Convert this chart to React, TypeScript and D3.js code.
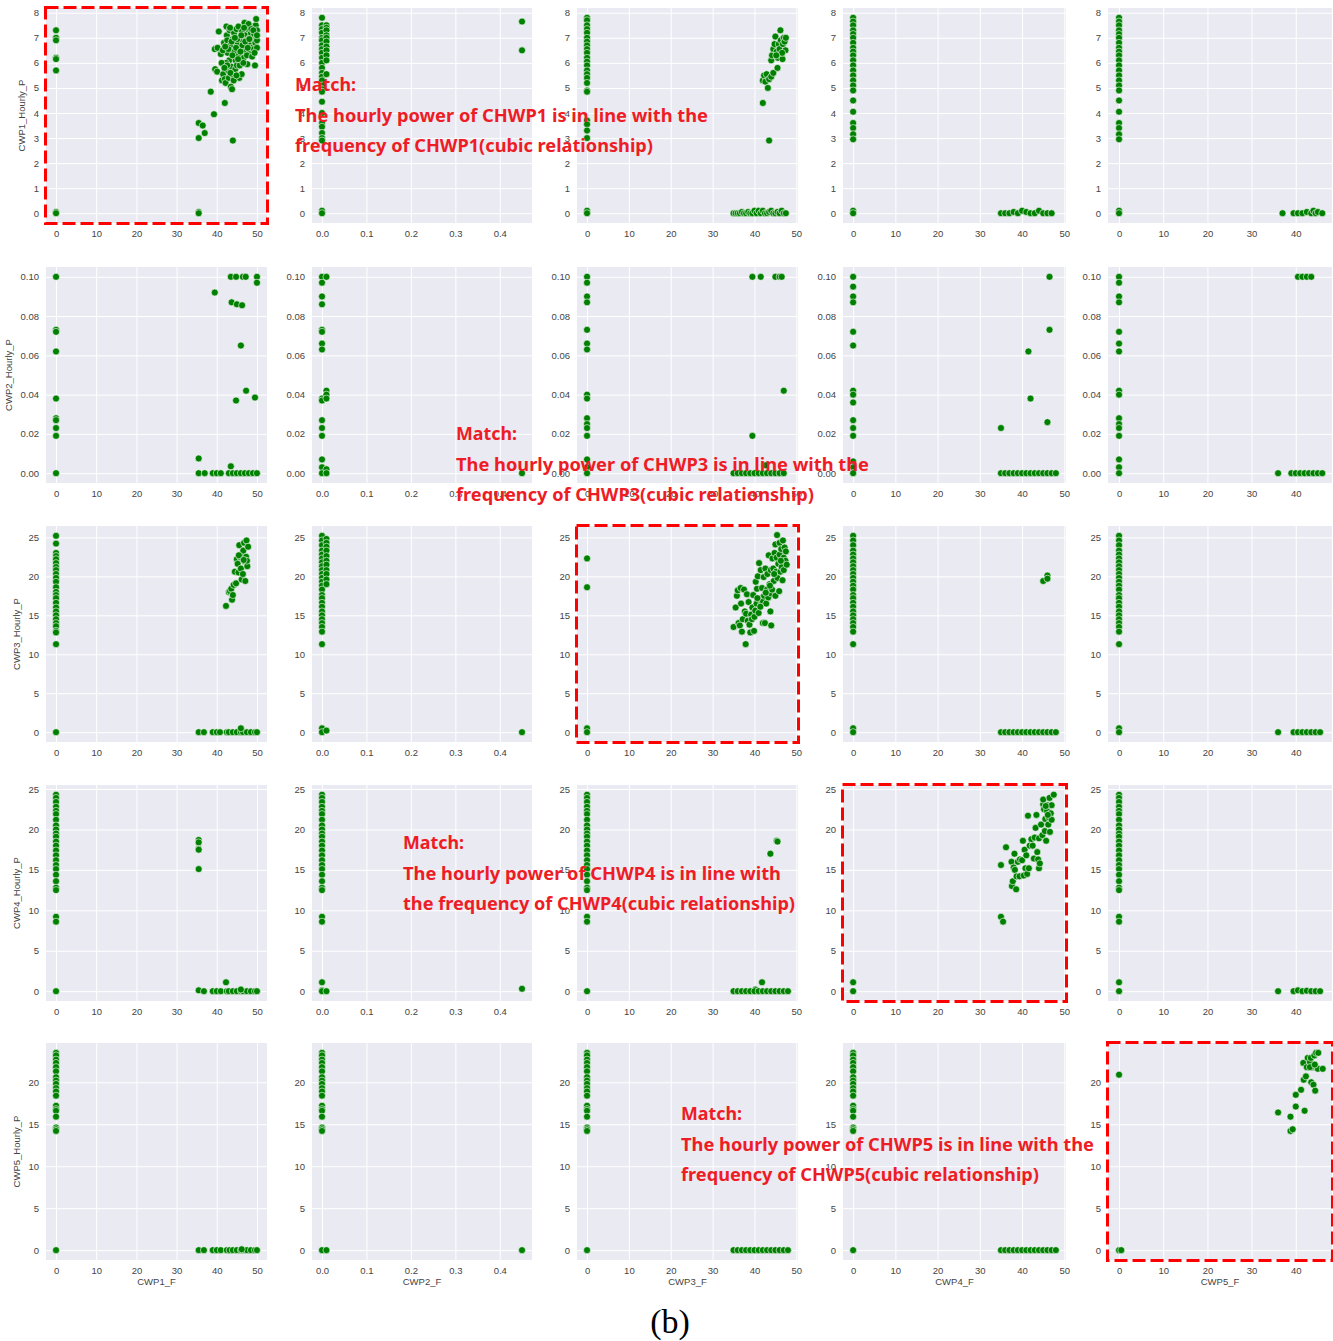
import React, { useEffect, useRef } from "react";
import * as d3 from "d3";

type Pt = [number, number];

// axis names
const xNames = ["CWP1_F", "CWP2_F", "CWP3_F", "CWP4_F", "CWP5_F"];
const yNames = ["CWP1_Hourly_P", "CWP2_Hourly_P", "CWP3_Hourly_P", "CWP4_Hourly_P", "CWP5_Hourly_P"];

// axis ranges (data + seaborn 5% margin) and ticks
const xDomains: [number, number][] = [[-2.5, 52.5], [-0.0225, 0.4725], [-2.4, 50.4], [-2.4, 50.4], [-2.5, 48.2]];
const yDomains: [number, number][] = [[-0.39, 8.19], [-0.005, 0.105], [-1.26, 26.46], [-1.215, 25.5], [-1.175, 24.675]];
const xTicks = [[0, 10, 20, 30, 40, 50], [0, 0.1, 0.2, 0.3, 0.4], [0, 10, 20, 30, 40, 50], [0, 10, 20, 30, 40, 50], [0, 10, 20, 30, 40]];
const yTicks = [[0, 1, 2, 3, 4, 5, 6, 7, 8], [0, 0.02, 0.04, 0.06, 0.08, 0.1], [0, 5, 10, 15, 20, 25], [0, 5, 10, 15, 20, 25], [0, 5, 10, 15, 20]];
const xFormats = ["d", ".1f", "d", "d", "d"];
const yFormats = ["d", ".2f", "d", "d", "d"];

// ---- row 1 : CWP1_Hourly_P ----
const r1c1: Pt[] = [
  [0, 7.3], [0, 7.0], [0, 6.9], [0, 6.2], [0, 6.15], [0, 5.7], [0, 0.05], [0, 0],
  [35.5, 3.6], [35.5, 3.0], [35.5, 0.05], [35.5, 0], [36.5, 3.5], [37, 3.2], [44, 2.9], [39.3, 3.95], [38.5, 4.85], [42, 4.4],
  [40.5, 7.25], [39.5, 6.55], [40.2, 6.6], [39.6, 5.75], [40.1, 5.65], [41, 6.35], [41.3, 5.3], [41.6, 5.55], [41.8, 6.8],
  [42, 5.35], [42.2, 5.2], [42.4, 7.45], [42.5, 7.1], [42.6, 6.9], [42.7, 6.4], [42.8, 5.7], [43, 5.4], [43.1, 6.1],
  [43.2, 7.3], [43.4, 6.7], [43.5, 5.05], [43.6, 5.85], [43.8, 4.95], [44, 6.95], [44.1, 5.5], [44.3, 7.2], [44.4, 6.45],
  [44.6, 5.75], [44.7, 6.1], [44.9, 7.35], [45, 5.9], [45.2, 6.75], [45.4, 7.45], [45.5, 6.3], [45.6, 5.4], [45.8, 7.0],
  [46, 6.55], [46.2, 5.55], [46.3, 7.25], [46.5, 6.85], [46.7, 6.2], [46.9, 7.6], [47, 6.5], [47.2, 7.1], [47.4, 6.9],
  [47.6, 5.95], [47.8, 7.35], [48, 6.75], [48.2, 7.0], [48.3, 6.45], [48.5, 7.2], [48.7, 6.6], [48.9, 7.45], [49, 6.95],
  [49.2, 6.55], [49.3, 7.15], [49.5, 5.9], [49.6, 6.8], [49.7, 7.5], [49.8, 7.75], [49.9, 7.0], [50, 6.9], [50, 7.3],
  [50, 6.6], [42.3, 6.0], [43.9, 6.3], [45.1, 6.95], [46.1, 7.1], [47.5, 6.3], [48.8, 6.25], [44.2, 5.3], [45.7, 5.9],
  [41.5, 6.5], [43.3, 7.4], [47.9, 7.55], [46.6, 6.0], [42.9, 6.55], [44.8, 6.6], [49.4, 6.4],
  [41.2, 6.0], [42.1, 6.65], [43.7, 6.85], [44.5, 7.0], [45.3, 6.15], [46.4, 6.7], [47.1, 6.85], [48.1, 6.95], [48.6, 7.35],
  [49.1, 7.3], [43.4, 5.6], [44.9, 5.5], [46.8, 7.4], [47.7, 6.6], [50, 7.1], [45.9, 6.45], [42.6, 5.9], [41.9, 5.8],
];
const r1c2: Pt[] = [
  [0, 7.8], [0, 7.5], [0, 7.35], [0, 7.2], [0, 7.0], [0, 6.9], [0, 6.7], [0, 6.55], [0, 6.4], [0, 6.2], [0, 6.0], [0, 5.8],
  [0, 5.6], [0, 5.45], [0, 5.3], [0, 5.1], [0, 4.95], [0, 4.85], [0, 4.45], [0, 4.0], [0, 3.6], [0, 3.45], [0, 3.2], [0, 3.0],
  [0, 2.9], [0, 0.1], [0, 0],
  [0.01, 7.5], [0.01, 7.4], [0.01, 7.3], [0.01, 7.1], [0.01, 7.0], [0.01, 6.85], [0.01, 6.65], [0.01, 6.5], [0.01, 6.3],
  [0.01, 6.1], [0.01, 5.55], [0.45, 7.65], [0.45, 6.5],
];
const r1c3: Pt[] = [
  [0, 7.8], [0, 7.7], [0, 7.5], [0, 7.35], [0, 7.2], [0, 7.0], [0, 6.85], [0, 6.7], [0, 6.55], [0, 6.4], [0, 6.2], [0, 6.05],
  [0, 5.9], [0, 5.7], [0, 5.55], [0, 5.4], [0, 5.2], [0, 4.9], [0, 4.85], [0, 3.7], [0, 3.55], [0, 3.3], [0, 3.0], [0, 0.1], [0, 0],
  [42, 4.4], [43.5, 2.9], [42, 5.3], [42.3, 5.5], [42.6, 5.25], [42.9, 5.55], [43.2, 5.0], [43.5, 5.35], [44, 5.45], [44.5, 5.6],
  [45.5, 5.8], [44, 6.1], [44.2, 6.3], [44.5, 6.55], [44.8, 6.75], [45, 7.05], [45.3, 6.45], [45.6, 6.2], [45.8, 6.75],
  [46, 6.55], [46.2, 7.3], [46.3, 6.9], [46.5, 6.3], [46.7, 6.15], [46.8, 6.75], [47, 7.0], [47.2, 6.85], [47.4, 6.5],
  [47.5, 7.0], [46.6, 6.4], [45.2, 6.3],
  [35, 0], [35.5, 0], [36, 0], [36.5, 0], [37, 0.05], [37.5, 0], [38, 0], [38.5, 0.05], [39, 0], [39.5, 0], [40, 0.1],
  [40.5, 0], [41, 0.1], [41.5, 0], [42, 0.1], [42.5, 0], [43, 0], [43.5, 0.05], [44, 0.1], [44.5, 0], [45, 0], [45.5, 0.05],
  [46, 0], [46.5, 0.1], [47, 0], [47.5, 0],
];
const r1c4: Pt[] = [
  [0, 7.8], [0, 7.65], [0, 7.5], [0, 7.3], [0, 7.15], [0, 7.0], [0, 6.8], [0, 6.6], [0, 6.45], [0, 6.3], [0, 6.1], [0, 5.9],
  [0, 5.7], [0, 5.5], [0, 5.3], [0, 5.1], [0, 4.9], [0, 4.5], [0, 4.05], [0, 3.6], [0, 3.4], [0, 3.15], [0, 2.95], [0, 0.1], [0, 0],
  [35, 0], [36, 0], [37, 0], [38, 0.05], [39, 0], [40, 0.1], [41, 0.05], [42, 0], [43, 0], [44, 0.1], [45, 0], [46, 0], [47, 0],
];
const r1c5: Pt[] = [
  [0, 7.8], [0, 7.65], [0, 7.5], [0, 7.3], [0, 7.15], [0, 7.0], [0, 6.8], [0, 6.6], [0, 6.45], [0, 6.3], [0, 6.1], [0, 5.9],
  [0, 5.7], [0, 5.5], [0, 5.3], [0, 5.1], [0, 4.9], [0, 4.5], [0, 4.05], [0, 3.6], [0, 3.4], [0, 3.15], [0, 2.95], [0, 0.1], [0, 0],
  [37, 0], [39.5, 0], [40.5, 0], [41.5, 0], [42.5, 0.05], [43.5, 0], [44, 0.1], [44.5, 0], [45, 0.05], [46, 0],
];

// ---- row 2 : CWP2_Hourly_P ----
const r2c1: Pt[] = [
  [0, 0.1], [0, 0.073], [0, 0.072], [0, 0.062], [0, 0.038], [0, 0.028], [0, 0.027], [0, 0.023], [0, 0.019], [0, 0],
  [39.5, 0.092], [43.5, 0.1], [44.8, 0.1], [46.5, 0.1], [47.2, 0.1], [50, 0.1], [50, 0.097], [43.7, 0.087], [45, 0.086],
  [46.3, 0.0855], [46, 0.065], [47.3, 0.042], [49.5, 0.0385], [44.8, 0.037], [35.5, 0.0075], [43.5, 0.0035],
  [35.5, 0], [37, 0], [39, 0], [40, 0], [41, 0], [43, 0], [44, 0], [45, 0], [46, 0], [47, 0], [48, 0], [49, 0], [50, 0],
];
const r2c2: Pt[] = [
  [0, 0.1], [0, 0.097], [0, 0.09], [0, 0.086], [0, 0.073], [0, 0.072], [0, 0.066], [0, 0.063], [0, 0.038], [0, 0.037],
  [0, 0.027], [0, 0.023], [0, 0.019], [0, 0.007], [0, 0.003], [0, 0],
  [0.01, 0.1], [0.01, 0.042], [0.01, 0.04], [0.01, 0.038], [0.01, 0.002], [0.01, 0], [0.45, 0],
];
const r2c3: Pt[] = [
  [0, 0.1], [0, 0.097], [0, 0.09], [0, 0.087], [0, 0.073], [0, 0.066], [0, 0.063], [0, 0.04], [0, 0.038], [0, 0.028],
  [0, 0.025], [0, 0.023], [0, 0.019], [0, 0.007], [0, 0.003], [0, 0],
  [39.5, 0.1], [41.5, 0.1], [45, 0.1], [46, 0.1], [46.5, 0.1], [47, 0.042], [39.5, 0.019], [42.6, 0.004],
  [35, 0], [36, 0], [37, 0], [38, 0], [39, 0], [40, 0], [41, 0], [42, 0], [43, 0], [44, 0], [45, 0], [46, 0], [47, 0],
];
const r2c4: Pt[] = [
  [0, 0.1], [0, 0.095], [0, 0.09], [0, 0.087], [0, 0.072], [0, 0.065], [0, 0.042], [0, 0.04], [0, 0.036], [0, 0.027],
  [0, 0.023], [0, 0.019], [0, 0.006], [0, 0.003], [0, 0],
  [46.5, 0.1], [46.5, 0.073], [41.5, 0.062], [42, 0.038], [35, 0.023], [46, 0.026],
  [35, 0], [36, 0], [37, 0], [38, 0], [39, 0], [40, 0], [41, 0], [42, 0], [43, 0], [44, 0], [45, 0], [46, 0], [47, 0], [48, 0],
];
const r2c5: Pt[] = [
  [0, 0.1], [0, 0.097], [0, 0.09], [0, 0.087], [0, 0.072], [0, 0.066], [0, 0.062], [0, 0.042], [0, 0.04], [0, 0.028],
  [0, 0.025], [0, 0.023], [0, 0.019], [0, 0.007], [0, 0.003], [0, 0],
  [40.5, 0.1], [41.5, 0.1], [42.5, 0.1], [43.5, 0.1],
  [36, 0], [39, 0], [40, 0], [41, 0], [42, 0], [43, 0], [44, 0], [45, 0], [46, 0],
];

// ---- row 3 : CWP3_Hourly_P ----
const r3c1: Pt[] = [
  [0, 25.2], [0, 24.2], [0, 23], [0, 22.6], [0, 22.2], [0, 21.7], [0, 21.2], [0, 20.8], [0, 20.3], [0, 19.8], [0, 19.3],
  [0, 18.6], [0, 18], [0, 17.6], [0, 17.2], [0, 16.6], [0, 16], [0, 15.5], [0, 15], [0, 14.5], [0, 14], [0, 13.6],
  [0, 13], [0, 12.8], [0, 11.3], [0, 0],
  [42.3, 16.2], [43, 18], [43.3, 18.1], [43.6, 18.4], [43.8, 17], [44, 17.6], [44.2, 18.9], [44.5, 20.6], [44.8, 19.1],
  [45, 22.2], [45.2, 21.6], [45.4, 20.5], [45.6, 24], [45.8, 22.5], [46, 21], [46.2, 19.6], [46.3, 22.8], [46.5, 20.3],
  [46.6, 23.3], [46.8, 24.3], [47, 21.9], [47.1, 19.4], [47.3, 22.5], [47.4, 24.6], [47.6, 21.3], [47.8, 23.8],
  [47.5, 22], [45.5, 22.7], [46.7, 22.1],
  [35.5, 0], [36.8, 0], [39, 0], [40, 0], [40.8, 0], [42.5, 0], [43, 0], [44, 0], [45, 0], [46, 0], [46.5, 0], [47.5, 0],
  [48.5, 0], [49.5, 0], [50, 0], [46, 0.5],
];
const r3c2: Pt[] = [
  [0, 25.2], [0, 24.6], [0, 24], [0, 23.3], [0, 22.8], [0, 22.3], [0, 21.8], [0, 21.3], [0, 20.8], [0, 20.3], [0, 19.8],
  [0, 19.3], [0, 18.8], [0, 18.3], [0, 17.6], [0, 17.2], [0, 16.6], [0, 16.1], [0, 15.5], [0, 15], [0, 14.5], [0, 14],
  [0, 13.5], [0, 12.9], [0, 11.3], [0, 0.5], [0, 0],
  [0.01, 24.8], [0.01, 24.3], [0.01, 23.8], [0.01, 23.3], [0.01, 22.6], [0.01, 22], [0.01, 21.5], [0.01, 20.8],
  [0.01, 20.3], [0.01, 19.6], [0.01, 19], [0.01, 0.2], [0.45, 0],
];
const r3c3: Pt[] = [
  [0, 22.3], [0, 18.6], [0, 0.5], [0, 0],
  [35, 13.5], [35.5, 16], [35.8, 17.5], [36, 18.2], [36.2, 14], [36.5, 13.7], [36.7, 18.5], [36.8, 16.5], [37, 12.9],
  [37.2, 14.5], [37.5, 18.3], [37.7, 15.5], [37.9, 11.3], [38, 15.2], [38.2, 17.7], [38.4, 14.3], [38.6, 16.7],
  [38.8, 13.8], [39, 12.8], [39.2, 15.1], [39.4, 14.5], [39.5, 16], [39.7, 17.6], [39.9, 13], [40, 14.8], [40.2, 15.6],
  [40.3, 19.3], [40.5, 16.5], [40.6, 18.4], [40.8, 20], [41, 15.3], [41.1, 21.7], [41.3, 17.2], [41.5, 20.8], [41.6, 16.4],
  [41.8, 18.5], [42, 14], [42, 16.8], [42.2, 19.9], [42.3, 17.5], [42.5, 14], [42.6, 21], [42.8, 16.5], [43, 18.3],
  [43.1, 20.3], [43.3, 17.3], [43.4, 22.7], [43.6, 19], [43.8, 15.5], [43.9, 20.8], [44, 13.7], [44, 17.8], [44.2, 18.3],
  [44.3, 22.3], [44.5, 21], [44.6, 19.4], [44.8, 23], [45, 17.5], [45, 24.1], [45.2, 20.6], [45.3, 22.4], [45.4, 25.3],
  [45.5, 19.8], [45.7, 21.6], [45.9, 18.1], [46, 24.3], [46, 22.8], [46.2, 20.6], [46.4, 23.5], [46.5, 21.2], [46.7, 19.5],
  [46.8, 24.6], [47, 22.4], [47, 20.8], [47.2, 23.7], [47.4, 22], [47.5, 23.2], [47.7, 21.5], [46.3, 22], [44.7, 20.3],
  [43.7, 18.8], [42.7, 17.9], [41.4, 16.1], [40.7, 17.2],
];
const r3c4: Pt[] = [
  [0, 25.2], [0, 24.6], [0, 24], [0, 23.3], [0, 22.8], [0, 22.3], [0, 21.8], [0, 21.3], [0, 20.8], [0, 20.3], [0, 19.8],
  [0, 19.3], [0, 18.8], [0, 18.3], [0, 17.6], [0, 17.2], [0, 16.6], [0, 16.1], [0, 15.5], [0, 15], [0, 14.5], [0, 14],
  [0, 13.5], [0, 12.9], [0, 11.3], [0, 0.5], [0, 0],
  [45, 19.4], [46, 20.1], [46, 19.7],
  [35, 0], [36, 0], [37, 0], [38, 0], [39, 0], [40, 0], [41, 0], [42, 0], [43, 0], [44, 0], [45, 0], [46, 0], [47, 0], [48, 0],
];
const r3c5: Pt[] = [
  [0, 25.2], [0, 24.6], [0, 24], [0, 23.3], [0, 22.8], [0, 22.3], [0, 21.8], [0, 21.3], [0, 20.8], [0, 20.3], [0, 19.8],
  [0, 19.3], [0, 18.8], [0, 18.3], [0, 17.6], [0, 17.2], [0, 16.6], [0, 16.1], [0, 15.5], [0, 15], [0, 14.5], [0, 14],
  [0, 13.5], [0, 12.9], [0, 11.3], [0, 0.5], [0, 0],
  [36, 0], [39.5, 0], [40.5, 0], [41.5, 0], [42.5, 0], [43.5, 0], [44.5, 0], [45.5, 0],
];

// ---- row 4 : CWP4_Hourly_P ----
const r4c1: Pt[] = [
  [0, 24.3], [0, 23.9], [0, 23.4], [0, 22.8], [0, 22.3], [0, 21.9], [0, 21.2], [0, 20.5], [0, 20], [0, 19.5], [0, 19.1],
  [0, 18.5], [0, 18], [0, 17.4], [0, 16.8], [0, 16.2], [0, 15.6], [0, 15.1], [0, 14.4], [0, 13.6], [0, 12.8], [0, 12.5],
  [0, 9.2], [0, 8.6], [0, 0],
  [35.5, 18.7], [35.5, 18.4], [35.5, 17.6], [35.5, 17.5], [35.5, 15.1], [35.5, 0.1], [42.3, 1.1],
  [36.8, 0], [39, 0], [40, 0], [41, 0], [42.5, 0], [43, 0], [44, 0], [45, 0], [46, 0], [46.5, 0], [47.5, 0], [48.5, 0],
  [49.5, 0], [50, 0], [46, 0.2],
];
const r4c2: Pt[] = [
  [0, 24.3], [0, 23.9], [0, 23.4], [0, 22.8], [0, 22.3], [0, 21.9], [0, 21.2], [0, 20.5], [0, 20], [0, 19.5], [0, 19.1],
  [0, 18.5], [0, 18], [0, 17.4], [0, 16.8], [0, 16.2], [0, 15.6], [0, 15.1], [0, 14.4], [0, 13.6], [0, 12.8], [0, 12.5],
  [0, 9.2], [0, 8.6], [0, 1.1], [0, 0.1], [0, 0], [0.01, 0], [0.45, 0.3],
];
const r4c3: Pt[] = [
  [0, 24.3], [0, 23.9], [0, 23.4], [0, 22.8], [0, 22.3], [0, 21.9], [0, 21.2], [0, 20.5], [0, 20], [0, 19.5], [0, 19.1],
  [0, 18.5], [0, 18], [0, 17.4], [0, 16.8], [0, 16.2], [0, 15.6], [0, 15.1], [0, 14.4], [0, 13.6], [0, 12.8], [0, 12.5],
  [0, 9.2], [0, 8.6], [0, 0],
  [43.8, 17], [45.3, 18.6], [45.5, 18.5], [41.8, 1.1], [40.2, 0.2],
  [35, 0], [36, 0], [37, 0], [38, 0], [39, 0], [40, 0], [41, 0], [42, 0], [43, 0], [44, 0], [45, 0], [46, 0], [47, 0], [48, 0],
];
const r4c4: Pt[] = [
  [0, 1.1], [0, 0],
  [35, 9.2], [35.5, 8.6], [35, 15.6], [36.2, 17.8], [37.5, 16], [37.6, 13], [37.8, 13.6], [38, 15.3], [38.2, 17],
  [38.3, 15], [38.6, 12.6], [38.7, 14.2], [39, 16], [39.4, 14.2], [39.5, 16.3], [40, 16.2], [40.2, 18.6], [40.4, 14.3],
  [40.6, 17.5], [40.8, 15.2], [41, 16.8], [41.2, 14.5], [41.4, 21.7], [41.6, 15.2], [41.8, 18], [42.2, 18.8], [42.5, 18],
  [42.8, 16.4], [43, 19], [43.2, 20.2], [43.4, 21.8], [43.6, 17.2], [43.8, 16.3], [44, 15.2], [44, 18.9], [44.2, 15.8],
  [44.5, 20.6], [44.8, 19.3], [45, 23.1], [45, 23.7], [45.2, 22.5], [45.4, 19.8], [45.5, 21.3], [45.7, 18.6], [45.9, 22.3],
  [46, 23], [46.2, 20.6], [46.3, 21.5], [46.5, 23.9], [46.6, 19.7], [46.8, 22], [47, 21.2], [47, 23], [47.5, 24.3],
  [45.6, 22.9], [46.1, 21.8],
];
const r4c5: Pt[] = [
  [0, 24.3], [0, 23.9], [0, 23.4], [0, 22.8], [0, 22.3], [0, 21.9], [0, 21.2], [0, 20.5], [0, 20], [0, 19.5], [0, 19.1],
  [0, 18.5], [0, 18], [0, 17.4], [0, 16.8], [0, 16.2], [0, 15.6], [0, 15.1], [0, 14.4], [0, 13.6], [0, 12.8], [0, 12.5],
  [0, 9.2], [0, 8.6], [0, 1.1], [0, 0],
  [36, 0], [39.5, 0], [40.5, 0.1], [41.5, 0], [42.5, 0.05], [43.5, 0], [44.5, 0], [45.5, 0],
];

// ---- row 5 : CWP5_Hourly_P ----
const r5c1: Pt[] = [
  [0, 23.5], [0, 23.2], [0, 22.7], [0, 22.3], [0, 21.8], [0, 21.3], [0, 20.6], [0, 20.2], [0, 19.8], [0, 19.3], [0, 18.9],
  [0, 18.4], [0, 17.2], [0, 16.8], [0, 16.6], [0, 15.9], [0, 14.6], [0, 14.4], [0, 14.2], [0, 0],
  [35.5, 0], [36.8, 0], [39, 0], [40, 0], [41, 0], [42.5, 0], [43.2, 0], [44, 0], [45, 0], [46, 0], [46.5, 0], [47.5, 0],
  [48.5, 0], [49.5, 0], [50, 0], [46.2, 0.1],
];
const r5c2: Pt[] = [
  [0, 23.5], [0, 23.2], [0, 22.7], [0, 22.3], [0, 21.8], [0, 21.3], [0, 20.6], [0, 20.2], [0, 19.8], [0, 19.3], [0, 18.9],
  [0, 18.4], [0, 17.2], [0, 16.8], [0, 16.6], [0, 15.9], [0, 14.6], [0, 14.4], [0, 14.2], [0, 0], [0.01, 0], [0.45, 0],
];
const r5c3: Pt[] = [
  [0, 23.5], [0, 23.2], [0, 22.7], [0, 22.3], [0, 21.8], [0, 21.3], [0, 20.6], [0, 20.2], [0, 19.8], [0, 19.3], [0, 18.9],
  [0, 18.4], [0, 17.2], [0, 16.8], [0, 16.6], [0, 15.9], [0, 14.6], [0, 14.4], [0, 14.2], [0, 0],
  [35, 0], [36, 0], [37, 0], [38, 0], [39, 0], [40, 0], [41, 0], [42, 0], [43, 0], [44, 0], [45, 0], [46, 0], [47, 0], [48, 0],
];
const r5c4: Pt[] = [
  [0, 23.5], [0, 23.2], [0, 22.7], [0, 22.3], [0, 21.8], [0, 21.3], [0, 20.6], [0, 20.2], [0, 19.8], [0, 19.3], [0, 18.9],
  [0, 18.4], [0, 17.2], [0, 16.8], [0, 16.6], [0, 15.9], [0, 14.6], [0, 14.4], [0, 14.2], [0, 0],
  [35, 0], [36, 0], [37, 0], [38, 0], [39, 0], [40, 0], [41, 0], [42, 0], [43, 0], [44, 0], [45, 0], [46, 0], [47, 0], [48, 0],
];
const r5c5: Pt[] = [
  [0, 20.9], [0, 0], [0.5, 0],
  [36, 16.4], [38.8, 15.9], [38.8, 14.2], [39.3, 14.4], [40, 17.1], [40, 18.5], [41.2, 19.1], [41.8, 20.3], [42, 16.6],
  [42.3, 20.7], [41.7, 22.3], [42.5, 21.8], [42.7, 22.9], [43.2, 22.4], [43.4, 22.9], [43.5, 20], [43.8, 21.8], [44, 19.7],
  [44.2, 23.2], [44.4, 19], [44.5, 21.8], [44.6, 23.5], [45.1, 23.5], [45, 21.6], [46.1, 21.6], [43.2, 21.8], [44.3, 22.1],
];

const panels: Pt[][][] = [
  [r1c1, r1c2, r1c3, r1c4, r1c5],
  [r2c1, r2c2, r2c3, r2c4, r2c5],
  [r3c1, r3c2, r3c3, r3c4, r3c5],
  [r4c1, r4c2, r4c3, r4c4, r4c5],
  [r5c1, r5c2, r5c3, r5c4, r5c5],
];

// highlighted (row, col) diagonal panels
const highlighted = [[0, 0], [2, 2], [3, 3], [4, 4]];

// annotation texts
const notes = [
  { x: 295, y: 91, lines: ["Match:", "The hourly power of CHWP1 is in line with the", "frequency of CHWP1(cubic relationship)"], widths: [61, 413, 358] },
  { x: 456, y: 440, lines: ["Match:", "The hourly power of CHWP3 is in line with the", "frequency of CHWP3(cubic relationship)"], widths: [61, 413, 358] },
  { x: 403, y: 849, lines: ["Match:", "The hourly power of CHWP4 is in line with", "the frequency of CHWP4(cubic relationship)"], widths: [61, 378, 392] },
  { x: 681, y: 1120, lines: ["Match:", "The hourly power of CHWP5 is in line with the", "frequency of CHWP5(cubic relationship)"], widths: [61, 413, 358] },
];

const colLeft = [46, 312, 577, 843, 1108];
const colWidth = [221, 220, 221, 223, 224];
const rowTop = [8, 267, 526, 785, 1043];
const rowHeight = [215, 216, 216, 216, 217];
const yLabelX = [25, 12, 20, 20, 20];

const App = () => {
  const ref = useRef<SVGSVGElement>(null);

  useEffect(() => {
    const svg = d3.select(ref.current);
    svg.selectAll("*").remove();
    const font = "'Liberation Sans', Arial, sans-serif";

    panels.forEach((row, r) => {
      row.forEach((pts, c) => {
        const w = colWidth[c];
        const h = rowHeight[r];
        const x = d3.scaleLinear().domain(xDomains[c]).range([0, w]);
        const y = d3.scaleLinear().domain(yDomains[r]).range([h, 0]);
        const g = svg.append("g").attr("transform", `translate(${colLeft[c]},${rowTop[r]})`);

        g.append("rect").attr("width", w).attr("height", h).attr("fill", "#eaeaf2");

        const gx = g.append("g")
          .attr("transform", `translate(0,${h})`)
          .call(d3.axisBottom(x).tickValues(xTicks[c]).tickFormat(d3.format(xFormats[c]) as any).tickSize(-h).tickPadding(7));
        const gy = g.append("g")
          .call(d3.axisLeft(y).tickValues(yTicks[r]).tickFormat(d3.format(yFormats[r]) as any).tickSize(-w).tickPadding(7));
        [gx, gy].forEach((a) => {
          a.select(".domain").remove();
          a.selectAll("line").attr("stroke", "#fff").attr("stroke-width", 1);
          a.selectAll("text").attr("fill", "#444").attr("font-size", 9.5).attr("font-family", font);
        });

        g.selectAll("circle")
          .data(pts)
          .enter()
          .append("circle")
          .attr("cx", (d) => x(d[0]))
          .attr("cy", (d) => y(d[1]))
          .attr("r", 3.5)
          .attr("fill", "#008000")
          .attr("stroke", "#fff")
          .attr("stroke-width", 0.6);

        if (c === 0) {
          svg.append("text")
            .attr("transform", `translate(${yLabelX[r]},${rowTop[r] + h / 2}) rotate(-90)`)
            .attr("text-anchor", "middle")
            .attr("font-size", 9.5)
            .attr("font-family", font)
            .attr("fill", "#444")
            .text(yNames[r]);
        }
        if (r === 4) {
          svg.append("text")
            .attr("x", colLeft[c] + w / 2)
            .attr("y", rowTop[r] + h + 25)
            .attr("text-anchor", "middle")
            .attr("font-size", 9.5)
            .attr("font-family", font)
            .attr("fill", "#444")
            .text(xNames[c]);
        }
      });
    });

    highlighted.forEach(([r, c]) => {
      svg.append("rect")
        .attr("x", colLeft[c] - 0.5)
        .attr("y", rowTop[r] - 0.5)
        .attr("width", colWidth[c] + 1)
        .attr("height", rowHeight[r] + 1)
        .attr("fill", "none")
        .attr("stroke", "#ff0000")
        .attr("stroke-width", 3)
        .attr("stroke-dasharray", "13,5");
    });

    notes.forEach((n) => {
      n.lines.forEach((line, i) => {
        svg.append("text")
          .attr("x", n.x)
          .attr("y", n.y + i * 30.5)
          .attr("font-size", 18.5)
          .attr("font-weight", "bold")
          .attr("font-family", "'Noto Sans', 'Open Sans', sans-serif")
          .attr("fill", "#ee1c25")
          .attr("textLength", n.widths[i])
          .attr("lengthAdjust", "spacingAndGlyphs")
          .text(line);
      });
    });

    svg.append("text")
      .attr("x", 670)
      .attr("y", 1333)
      .attr("text-anchor", "middle")
      .attr("font-size", 34)
      .attr("font-family", "'Liberation Serif', 'Times New Roman', serif")
      .attr("fill", "#000")
      .text("(b)");
  }, []);

  return (
    <div>
      <style>{"body{margin:0}"}</style>
      <svg ref={ref} width={1333} height={1341} style={{ display: "block", background: "#fff" }}></svg>
    </div>
  );
};

export default App;
